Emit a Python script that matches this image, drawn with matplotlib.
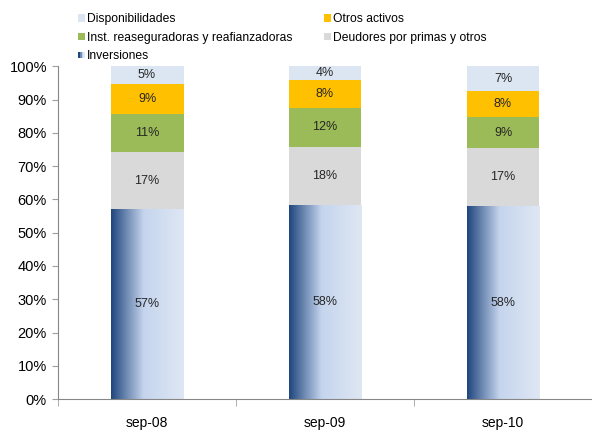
import matplotlib
matplotlib.use("Agg")
import matplotlib.pyplot as plt
import numpy as np
from matplotlib.colors import LinearSegmentedColormap
from matplotlib.patches import Patch, Rectangle
from matplotlib.legend_handler import HandlerBase

plt.rcParams["font.family"] = ["Liberation Sans", "DejaVu Sans"]

periods = ["sep-08", "sep-09", "sep-10"]
inversiones = [57.0, 58.3, 58.0]
deudores = [17.4, 17.6, 17.4]
inst_reaseg = [11.4, 11.6, 9.4]
otros_activos = [8.8, 8.4, 7.8]
disponibilidades = [5.4, 4.1, 7.4]

series = [
    ("Inversiones", inversiones, None),
    ("Deudores por primas y otros", deudores, "#D9D9D9"),
    ("Inst. reaseguradoras y reafianzadoras", inst_reaseg, "#9BBB59"),
    ("Otros activos", otros_activos, "#FFC000"),
    ("Disponibilidades", disponibilidades, "#DCE6F2"),
]

grad_cmap = LinearSegmentedColormap.from_list(
    "inv", [(0.0, "#1F467D"), (0.12, "#4C6C9C"), (0.45, "#C5D5EE"), (1.0, "#DFE7F3")]
)


class GradientHandler(HandlerBase):
    def create_artists(self, legend, orig_handle, xdescent, ydescent, width, height, fontsize, trans):
        side = height * 0.85
        x0 = -xdescent + width - side
        y0 = -ydescent + (height - side) / 2
        parts = []
        shades = ["#1F467D", "#6F8CB8", "#C5D5EE", "#DFE7F3"]
        for k, c in enumerate(shades):
            parts.append(Rectangle((x0 + k * side / 4, y0), side / 4, side,
                                   facecolor=c, edgecolor="none", transform=trans))
        return parts


fig = plt.figure(figsize=(5.92, 4.33), dpi=100)
ax = fig.add_axes([0.098, 0.0785, 0.902, 0.768])

x = np.arange(len(periods))
totals = np.sum([s[1] for s in series], axis=0)
bottom = np.zeros(len(periods))
handles = {}
for name, vals, color in series:
    vals = np.array(vals)
    share = vals / totals * 100
    if color is None:
        bars = ax.bar(x, share, 0.41, bottom=bottom, color="none", edgecolor="none")
        grad = np.linspace(0, 1, 256).reshape(1, -1)
        for b in bars:
            ax.imshow(grad, extent=[b.get_x(), b.get_x() + b.get_width(), b.get_y(), b.get_y() + b.get_height()],
                      aspect="auto", cmap=grad_cmap, zorder=2, origin="lower")
        handles[name] = Patch(facecolor="#4C6C9C", label=name)
    else:
        bars = ax.bar(x, share, 0.41, bottom=bottom, color=color, edgecolor="none", zorder=2)
        handles[name] = Patch(facecolor=color, label=name)
    for i, b in enumerate(bars):
        ax.text(b.get_x() + b.get_width() / 2, bottom[i] + share[i] / 2, f"{vals[i]:.0f}%",
                ha="center", va="center", fontsize=9, color="#262626", zorder=3)
    bottom = bottom + share

ax.set_xlim(-0.5, 2.5)
ax.set_ylim(0, 100)
ax.set_yticks(np.arange(0, 101, 10))
ax.set_yticklabels([f"{v}%" for v in range(0, 101, 10)])
ax.set_xticks(x)
ax.set_xticklabels(periods)
ax.set_xticks([-0.5, 0.5, 1.5], minor=True)
ax.tick_params(axis="x", which="major", length=0, pad=12, labelsize=10, labelcolor="#000000")
ax.tick_params(axis="x", which="minor", length=5, direction="out", color="#A0A0A0")
ax.tick_params(axis="y", length=4, direction="out", color="#A0A0A0", labelsize=10.5, labelcolor="#000000", pad=4)
for side in ["top", "right"]:
    ax.spines[side].set_visible(False)
for side in ["left", "bottom"]:
    ax.spines[side].set_color("#868686")

order = ["Disponibilidades", "Inst. reaseguradoras y reafianzadoras", "Inversiones",
         "Otros activos", "Deudores por primas y otros"]
leg = fig.legend([handles[n] for n in order], order, ncol=2, loc="upper left",
                 bbox_to_anchor=(0.113, 0.995), frameon=False, fontsize=8.7,
                 handlelength=0.6, handleheight=0.6, handletextpad=0.15,
                 labelspacing=0.55, columnspacing=2.6,
                 handler_map={handles["Inversiones"]: GradientHandler()})

fig.savefig("out.png", dpi=100)
